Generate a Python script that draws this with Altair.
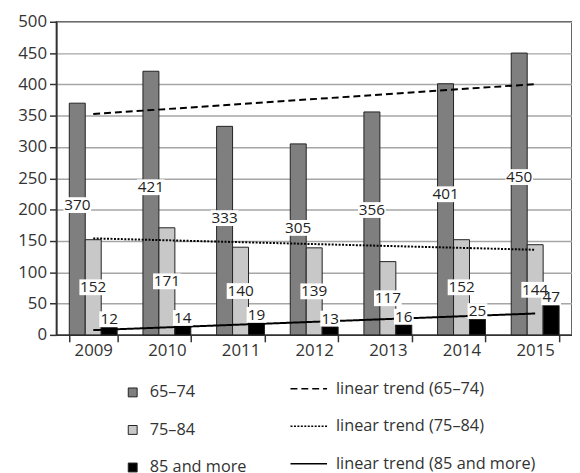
import altair as alt
import pandas as pd

years = ["2009", "2010", "2011", "2012", "2013", "2014", "2015"]
groups = ["65–74", "75–84", "85 and more"]
v_65_74 = [370, 421, 333, 305, 356, 401, 450]
v_75_84 = [152, 171, 140, 139, 117, 152, 144]
v_85 = [12, 14, 19, 13, 16, 25, 47]
trend_names = ["linear trend (65–74)", "linear trend (75–84)", "linear trend (85 and more)"]

rows = []
for g, vals in zip(groups, [v_65_74, v_75_84, v_85]):
    for y, v in zip(years, vals):
        rows.append({"year": y, "group": g, "value": v})
df = pd.DataFrame(rows)

FONT = "Open Sans"
TXT = "#333333"

base = alt.Chart(df)

xscale = alt.Scale(domain=years, paddingInner=0.35, paddingOuter=0.175)
yscale = alt.Scale(domain=[0, 500], nice=False)
xaxis = alt.Axis(labelAngle=0, tickBand="extent", tickSize=7,
                 labelFontSize=17, labelPadding=1, grid=False)
yaxis = alt.Axis(values=list(range(0, 501, 50)), tickSize=7,
                 labelFontSize=17, labelPadding=3, grid=True, labelOverlap=False)

bars = base.mark_bar(stroke="#222222", strokeWidth=1).encode(
    x=alt.X("year:N", scale=xscale, title=None, axis=xaxis),
    xOffset=alt.XOffset("group:N", sort=groups,
                        scale=alt.Scale(domain=groups, paddingInner=0, paddingOuter=0)),
    y=alt.Y("value:Q", scale=yscale, title=None, axis=yaxis),
    fill=alt.Fill("group:N", sort=groups,
                  scale=alt.Scale(domain=groups, range=["#7f7f7f", "#c8c8c8", "#000000"]),
                  legend=alt.Legend(orient="none", legendX=69, legendY=367,
                                    direction="vertical", title=None,
                                    symbolType="square", symbolSize=81,
                                    symbolStrokeColor="#222222", symbolStrokeWidth=1,
                                    labelOffset=9, rowPadding=21, padding=0,
                                    labelLimit=300)),
)

lines = base.transform_calculate(
    yearnum="toNumber(datum.year)"
).transform_regression(
    "yearnum", "value", groupby=["group"], method="linear"
).transform_calculate(
    yr="toString(datum.yearnum)",
    trend="'linear trend (' + datum.group + ')'",
).mark_line(color="black", strokeWidth=2).encode(
    x=alt.X("yr:N", scale=xscale, title=None, axis=xaxis),
    y=alt.Y("value:Q", scale=yscale, title=None, axis=yaxis),
    strokeDash=alt.StrokeDash(
        "trend:N", sort=trend_names,
        scale=alt.Scale(domain=trend_names, range=[[7, 4], [2, 1.5], [1, 0]]),
        legend=alt.Legend(orient="none", legendX=236, legendY=352,
                          direction="vertical", title=None,
                          symbolType="stroke", symbolSize=1369,
                          symbolStrokeColor="black", symbolStrokeWidth=1.5,
                          labelOffset=8, rowPadding=10, padding=0,
                          labelLimit=300)),
    detail="group:N",
)

labels_base = base.transform_calculate(
    label="toString(datum.value)",
    pos="datum.group == '65–74' ? datum.value * 0.56 : (datum.group == '75–84' ? datum.value * 0.5 : datum.value + 13)",
)

path3 = "M-1.75,-1L1.75,-1L1.75,1L-1.75,1Z"
path2 = "M-1.25,-1L1.25,-1L1.25,1L-1.25,1Z"

boxes = labels_base.mark_point(filled=True, fill="white", opacity=1, strokeWidth=0, size=256).encode(
    x=alt.X("year:N", scale=xscale, title=None, axis=xaxis),
    xOffset=alt.XOffset("group:N", sort=groups),
    y=alt.Y("pos:Q", scale=yscale, title=None, axis=yaxis),
    shape=alt.condition("length(datum.label) > 2", alt.value(path3), alt.value(path2)),
)

texts = labels_base.mark_text(font=FONT, fontSize=15.5, color="#222222",
                              align="center", baseline="middle").encode(
    x=alt.X("year:N", scale=xscale, title=None, axis=xaxis),
    xOffset=alt.XOffset("group:N", sort=groups),
    y=alt.Y("pos:Q", scale=yscale, title=None, axis=yaxis),
    text="label:N",
)

chart = alt.layer(bars, lines, boxes, texts).properties(
    width=522, height=317,
    autosize=alt.AutoSizeParams(type="none"),
    padding={"left": 49, "top": 11, "right": 0, "bottom": 145},
).configure_view(
    stroke="#333333", strokeWidth=1.5
).configure_axis(
    labelFont=FONT, labelColor=TXT, gridColor="#a6a6a6", gridWidth=1.5,
    domainColor="#333333", domainWidth=1.5, tickColor="#333333", tickWidth=1.5,
).configure_legend(
    labelFont=FONT, labelFontSize=16.5, labelColor=TXT,
)

chart.save("out.html", embed_options={"renderer": "svg", "actions": False})
